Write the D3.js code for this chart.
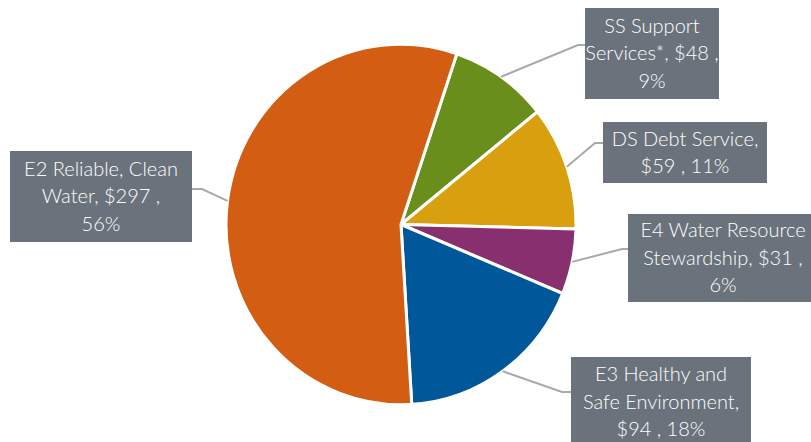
<!DOCTYPE html>
<html>
<head>
<meta charset="utf-8">
<script src="https://cdn.jsdelivr.net/npm/d3@7"></script>
<style>
body { margin: 0; background: #fff; }
svg { display: block; }
.lbl text { fill: #fff; font-family: Lato, "Noto Sans", sans-serif; font-size: 20px; font-weight: 300; }
</style>
</head>
<body>
<div id="chart"></div>
<script>
var categories = ["SS Support Services*", "DS Debt Service", "E4 Water Resource Stewardship", "E3 Healthy and Safe Environment", "E2 Reliable, Clean Water"];
var values = [48, 59, 31, 94, 297];
var percents = ["9%", "11%", "6%", "18%", "56%"];
var colours = ["#6a8e1c", "#d89f0f", "#88306f", "#00579a", "#d35e13"];

// label text as it wraps in the boxes
var label_lines = [
    ["SS Support", "Services*, $48 ,", "9%"],
    ["DS Debt Service,", "$59 , 11%"],
    ["E4 Water Resource", "Stewardship, $31 ,", "6%"],
    ["E3 Healthy  and", "Safe Environment,", "$94 , 18%"],
    ["E2 Reliable, Clean", "Water, $297 ,", "56%"]
];

// box x, y, w, h, elbow x, elbow y
var boxes = [
    [585, 8, 134, 91, 578, 45],
    [603, 122, 164, 61, 595, 143],
    [628, 214, 190, 88, 622, 249],
    [571, 357, 180, 90, 562, 392],
    [10, 151, 182, 91, 202, 189]
];

var W = 811, H = 442;
var cx = 401, cy = 224.5, r = 175, sy = 1.03;

var svg = d3.select("#chart").append("svg").attr("width", W).attr("height", H);

var pie = d3.pie().sort(null).value(function (d) { return d; })
        .startAngle(18.6 * Math.PI / 180).endAngle(18.6 * Math.PI / 180 + 2 * Math.PI);
var arcs = pie(values);
var arc = d3.arc().innerRadius(0).outerRadius(r);
var edge = d3.arc().innerRadius(r).outerRadius(r);

var g = svg.append("g").attr("transform", "translate(" + cx + "," + cy + ") scale(1," + sy + ")");
g.selectAll("path").data(arcs).enter().append("path")
        .attr("d", arc)
        .attr("fill", function (d, i) { return colours[i]; })
        .attr("stroke", "#fff")
        .attr("stroke-width", 3)
        .attr("stroke-linejoin", "round");

// leader lines
svg.selectAll(".leader").data(arcs).enter().append("polyline").attr("class", "leader")
        .attr("points", function (d, i) {
            var c = edge.centroid(d);
            var b = boxes[i];
            var bx = (b[4] > b[0]) ? b[0] + b[2] : b[0];
            return [[bx, b[5]], [b[4], b[5]], [cx + c[0], cy + c[1] * sy]].join(" ");
        })
        .attr("fill", "none")
        .attr("stroke", "#a9a9a9")
        .attr("stroke-width", 2);

var lbl = svg.selectAll(".lbl").data(arcs).enter().append("g").attr("class", "lbl");
lbl.append("rect")
        .attr("x", function (d, i) { return boxes[i][0]; })
        .attr("y", function (d, i) { return boxes[i][1]; })
        .attr("width", function (d, i) { return boxes[i][2]; })
        .attr("height", function (d, i) { return boxes[i][3]; })
        .attr("fill", "#6a727b");

lbl.each(function (d, i) {
    var b = boxes[i];
    var lines = label_lines[i];
    var lh = 27.5;
    var top = b[1] + b[3] / 2 - lines.length * lh / 2;
    var mid = b[0] + b[2] / 2;
    d3.select(this).selectAll("text").data(lines).enter().append("text")
            .attr("x", mid)
            .attr("y", function (t, k) { return top + lh * (k + 1) - 7; })
            .attr("text-anchor", "middle")
            .text(function (t) { return t; });
});
</script>
</body>
</html>
